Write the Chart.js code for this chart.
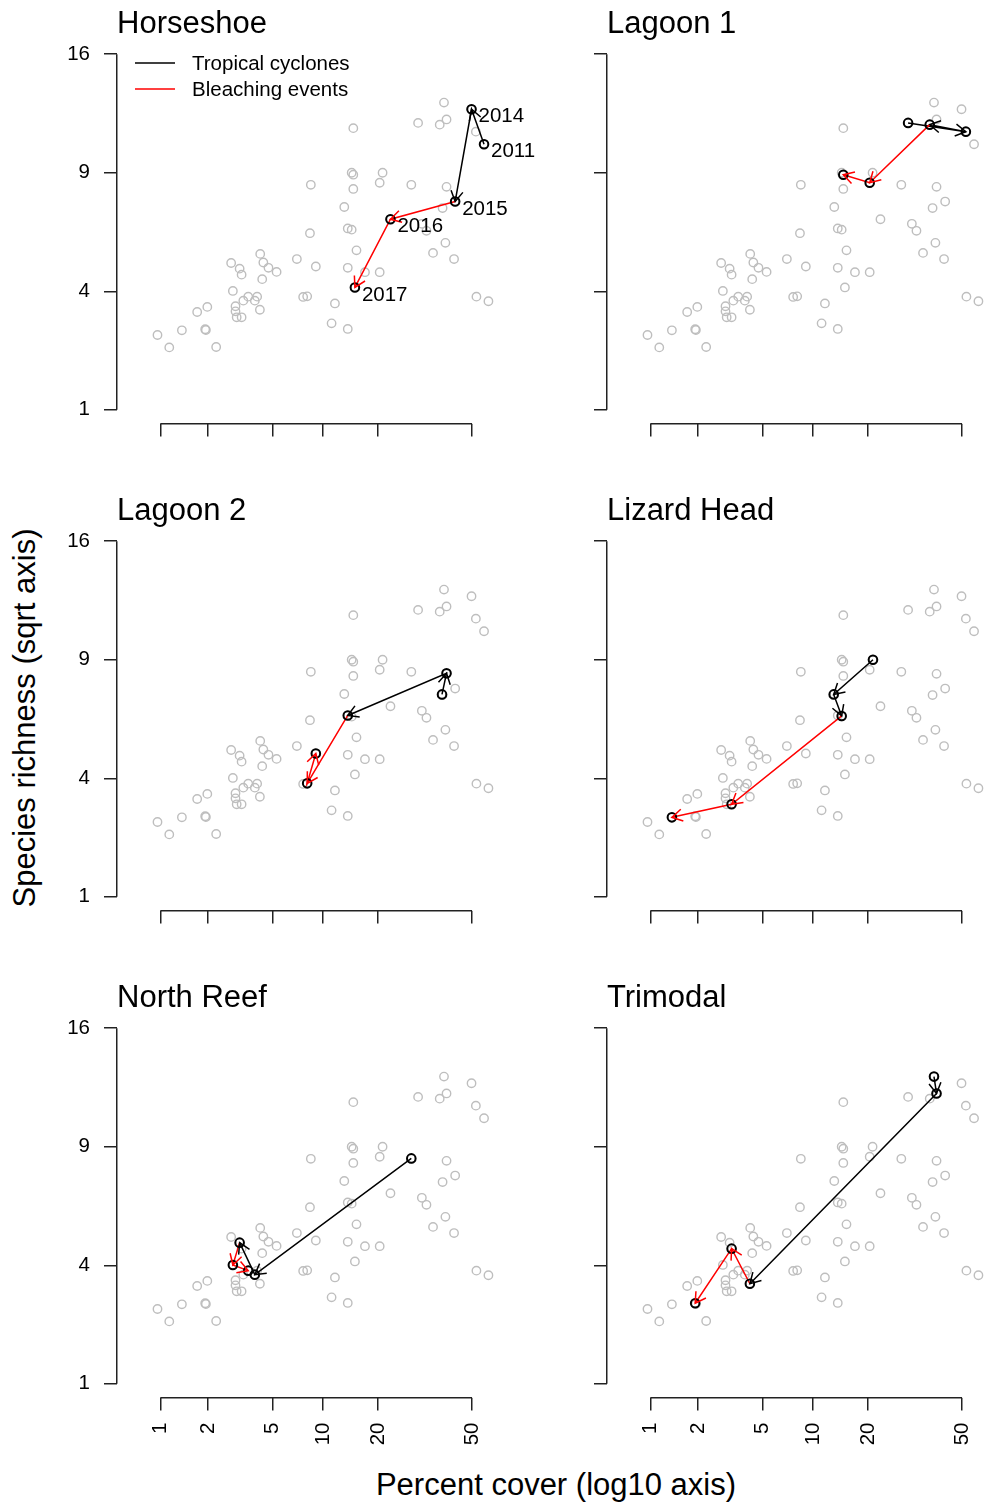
<!DOCTYPE html>
<html>
<head>
<meta charset="utf-8">
<script src="https://cdn.jsdelivr.net/npm/chart.js@4.4.0/dist/chart.umd.min.js"></script>
<style>
html,body{margin:0;padding:0;background:#fff;overflow:hidden;width:985px;height:1508px;position:relative;}
.axt{position:absolute;font-family:'Liberation Sans',Arial,Helvetica,sans-serif;font-size:31px;line-height:1;color:#000;white-space:nowrap;}
#ylab{left:23.5px;top:718px;transform:translate(-50%,-50%) rotate(-90deg);}
#xlab{left:556px;top:1484px;transform:translate(-50%,-50%);}
</style>
</head>
<body>
<div class="axt" id="ylab">Species richness (sqrt axis)</div>
<div class="axt" id="xlab">Percent cover (log10 axis)</div>
<script>
// ---------------- data ----------------
const years = ['2011', '2014', '2015', '2016', '2017'];
const segmentEvents = ['cyclone', 'cyclone', 'bleaching', 'bleaching'];
const legendLabels = ['Tropical cyclones', 'Bleaching events'];
const xTickValues = [1, 2, 5, 10, 20, 50];
const yTickValues = [1, 4, 9, 16];

// all site-year observations (grey background points): percent cover, species richness
const allCover = [39.8, 49.8, 40.7, 54.4, 14.8, 14.5, 14.8, 21.1, 20.4, 14.8,
  8.5, 29.0, 40.7, 43.8, 39.3, 13.2, 23.1, 32.3, 33.8, 13.8,
  14.5, 8.4, 40.3, 36.0, 43.4, 15.4, 4.22, 2.79, 3.15, 3.24,
  4.41, 4.74, 5.31, 7.03, 9.09, 13.8, 17.1, 20.4, 4.34, 15.1,
  2.86, 3.56, 4.04, 3.32, 3.91, 2.97, 2.97, 3.02, 3.24, 4.20,
  7.66, 8.09, 11.7, 51.6, 56.0, 1.71, 1.98, 11.2, 13.8, 0.96,
  1.37, 1.92, 1.94, 1.14, 2.25, 31.1, 38.3, 51.4];
const allRichness = [12.9, 12.5, 11.9, 10.5, 11.4, 9.0, 8.9, 9.0, 8.5, 8.2,
  8.4, 8.4, 8.3, 7.6, 7.3, 7.35, 6.8, 6.6, 6.3, 6.4,
  6.35, 6.2, 5.8, 5.4, 5.16, 5.5, 5.36, 5.01, 4.80, 4.58,
  5.03, 4.83, 4.68, 5.16, 4.88, 4.83, 4.67, 4.67, 4.42, 4.13,
  4.01, 3.82, 3.82, 3.69, 3.69, 3.51, 3.35, 3.17, 3.17, 3.40,
  3.81, 3.83, 3.60, 3.82, 3.67, 3.33, 3.49, 2.99, 2.83, 2.66,
  2.79, 2.82, 2.80, 2.33, 2.34, 11.7, 11.6, 11.2];

// highlighted sites, years 2011, 2014, 2015, 2016, 2017
const horseshoeCover = [54.4, 49.8, 43.8, 23.1, 15.1];
const horseshoeRichness = [10.5, 12.5, 7.6, 6.8, 4.13];
const lagoon1Cover = [31.1, 51.4, 38.3, 20.4, 14.8];
const lagoon1Richness = [11.7, 11.2, 11.6, 8.5, 8.9];
const lagoon2Cover = [39.1, 40.7, 13.8, 8.09, 9.09];
const lagoon2Richness = [7.33, 8.33, 6.4, 3.83, 4.88];
const lizardHeadCover = [21.2, 13.1, 14.5, 3.24, 1.37];
const lizardHeadRichness = [9.0, 7.33, 6.38, 3.17, 2.79];
const northReefCover = [29.0, 3.91, 3.15, 2.86, 3.56];
const northReefRichness = [8.42, 3.69, 4.80, 4.01, 3.82];
const trimodalCover = [39.8, 40.7, 4.20, 3.24, 1.92];
const trimodalRichness = [12.9, 11.9, 3.40, 4.58, 2.82];

const siteNames = ['Horseshoe', 'Lagoon 1', 'Lagoon 2', 'Lizard Head', 'North Reef', 'Trimodal'];
const siteCovers = [horseshoeCover, lagoon1Cover, lagoon2Cover, lizardHeadCover, northReefCover, trimodalCover];
const siteRichness = [horseshoeRichness, lagoon1Richness, lagoon2Richness, lizardHeadRichness, northReefRichness, trimodalRichness];

// ---------------- styling / transforms ----------------
const FONT = "'Liberation Sans', Arial, Helvetica, sans-serif";
Chart.defaults.font.family = FONT;
Chart.defaults.color = '#000';
const AXIS = '#222';
const GREY = '#BEBEBE';
const eventColors = { cyclone: '#000000', bleaching: '#FF0000' };
const logitT = p => Math.log(p / (100 - p));
const sqrtT = v => Math.sqrt(v);
const XMIN = -5.233, XMAX = 0.338;
const YMIN = 0.88, YMAX = 4.12;
const HEAD = 12;
const CANVAS_W = 545, PAD_R = 50;

const decorPlugin = {
  id: 'decor',
  beforeDatasetsDraw(chart) {
    // R-style axis lines spanning first..last tick
    const { ctx, chartArea } = chart;
    const xs = chart.scales.x, ys = chart.scales.y;
    const lw = 1.5;
    const al = p => Math.round(p - lw / 2) + lw / 2;
    ctx.save();
    ctx.strokeStyle = AXIS;
    ctx.lineWidth = lw;
    ctx.beginPath();
    const lx = al(chartArea.left);
    ctx.moveTo(lx, ys.getPixelForValue(sqrtT(yTickValues[0])));
    ctx.lineTo(lx, ys.getPixelForValue(sqrtT(yTickValues[yTickValues.length - 1])));
    const by = al(chartArea.bottom);
    ctx.moveTo(xs.getPixelForValue(logitT(xTickValues[0])), by);
    ctx.lineTo(xs.getPixelForValue(logitT(xTickValues[xTickValues.length - 1])), by);
    ctx.stroke();
    ctx.restore();
  },
  afterDatasetsDraw(chart, args, opts) {
    const ctx = chart.ctx;
    const idx = chart.data.datasets.findIndex(d => d.isSite);
    const pts = chart.getDatasetMeta(idx).data;
    ctx.save();
    ctx.lineWidth = 1.5;
    for (let i = 0; i < pts.length - 1; i++) {
      const a = pts[i], b = pts[i + 1];
      const ang = Math.atan2(b.y - a.y, b.x - a.x);
      ctx.strokeStyle = eventColors[segmentEvents[i]];
      ctx.beginPath();
      ctx.moveTo(b.x - HEAD * Math.cos(ang - Math.PI / 6), b.y - HEAD * Math.sin(ang - Math.PI / 6));
      ctx.lineTo(b.x, b.y);
      ctx.lineTo(b.x - HEAD * Math.cos(ang + Math.PI / 6), b.y - HEAD * Math.sin(ang + Math.PI / 6));
      ctx.stroke();
    }
    ctx.font = '20.5px ' + FONT;
    ctx.fillStyle = '#000';
    ctx.textBaseline = 'middle';
    ctx.textAlign = 'left';
    if (opts.yearLabels) {
      pts.forEach((p, i) => ctx.fillText(years[i], p.x + 7, p.y + 7.5));
    }
    if (opts.legend) {
      const rows = [{ y: 63, c: eventColors.cyclone, t: legendLabels[0] }, { y: 89, c: eventColors.bleaching, t: legendLabels[1] }];
      rows.forEach(r => {
        ctx.strokeStyle = r.c;
        ctx.lineWidth = 1.5;
        ctx.beginPath();
        ctx.moveTo(135, r.y); ctx.lineTo(175, r.y);
        ctx.stroke();
        ctx.fillText(r.t, 192, r.y + 1.5);
      });
    }
    ctx.restore();
  }
};

const greyPoints = allCover.map((c, i) => ({ x: logitT(c), y: sqrtT(allRichness[i]) }));

siteNames.forEach((name, i) => {
  const row = Math.floor(i / 2), col = i % 2;
  const cv = document.createElement('canvas');
  cv.width = CANVAS_W; cv.height = 487;
  cv.style.cssText = 'position:absolute;left:' + (490 * col) + 'px;top:' + (487 * row) + 'px;width:' + CANVAS_W + 'px;height:487px;';
  document.body.appendChild(cv);
  const sitePts = siteCovers[i].map((c, k) => ({ x: logitT(c), y: sqrtT(siteRichness[i][k]) }));
  new Chart(cv, {
    type: 'scatter',
    data: {
      datasets: [
        {
          label: 'all', data: greyPoints, order: 2, clip: false,
          pointStyle: 'circle', pointRadius: 4.2, pointBorderWidth: 1.4,
          pointBorderColor: GREY, pointBackgroundColor: 'rgba(0,0,0,0)', showLine: false
        },
        {
          label: name, isSite: true, data: sitePts, order: 1, clip: false,
          showLine: true, tension: 0, borderWidth: 1.5, borderColor: '#000',
          segment: { borderColor: ctx => eventColors[segmentEvents[ctx.p0DataIndex]] },
          pointStyle: 'circle', pointRadius: 4.3, pointBorderWidth: 2,
          pointBorderColor: '#000', pointBackgroundColor: 'rgba(0,0,0,0)'
        }
      ]
    },
    options: {
      responsive: false, animation: false, devicePixelRatio: 1, events: [],
      layout: { padding: { left: 0, right: PAD_R, top: 0, bottom: 0 } },
      plugins: {
        legend: { display: false },
        tooltip: { enabled: false },
        title: {
          display: true, text: name, align: 'start', fullSize: false, color: '#000',
          font: { size: 31, weight: 'normal', lineHeight: 1 }, padding: { top: 9, bottom: 0 }
        },
        decor: { yearLabels: i === 0, legend: i === 0 }
      },
      scales: {
        x: {
          type: 'linear', position: 'bottom', min: XMIN, max: XMAX, bounds: 'data',
          afterBuildTicks: s => { s.ticks = xTickValues.map(v => ({ value: logitT(v) })); },
          afterFit: s => { s.height = 63; },
          grid: { display: true, drawOnChartArea: false, drawTicks: true, tickLength: 12.5, lineWidth: 1.5, color: AXIS },
          border: { display: false },
          ticks: {
            display: row === 2, autoSkip: false, minRotation: 90, maxRotation: 90, padding: 12,
            font: { size: 20.5 }, color: '#000',
            callback: (v, k) => String(xTickValues[k])
          }
        },
        y: {
          type: 'linear', position: 'left', min: YMIN, max: YMAX, bounds: 'data',
          afterBuildTicks: s => { s.ticks = yTickValues.map(v => ({ value: sqrtT(v) })); },
          afterFit: s => { s.width = 117; },
          grid: { display: true, drawOnChartArea: false, drawTicks: true, tickLength: 13, lineWidth: 1.5, color: AXIS },
          border: { display: false },
          ticks: {
            display: col === 0, autoSkip: false, padding: 14,
            font: { size: 20.5 }, color: '#000',
            callback: (v, k) => String(yTickValues[k])
          }
        }
      }
    },
    plugins: [decorPlugin]
  });
});
</script>
</body>
</html>
